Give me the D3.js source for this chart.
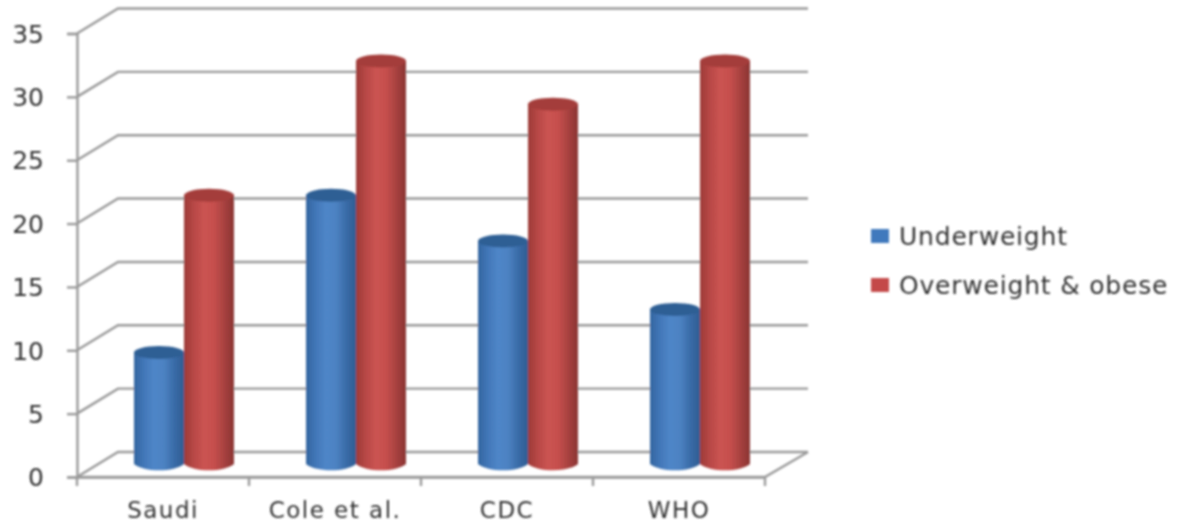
<!DOCTYPE html>
<html><head><meta charset="utf-8">
<script src="https://cdnjs.cloudflare.com/ajax/libs/d3/7.8.5/d3.min.js"></script>
<style>html,body{margin:0;background:#fff}svg{display:block}text{font-family:"DejaVu Sans",sans-serif;fill:#333}</style>
</head><body><svg id="c" width="1185" height="525"></svg>
<script>
const categories=["Saudi","Cole et al.","CDC","WHO"];
const seriesNames=["Underweight","Overweight & obese"];
const underweight=[8.8,21.2,17.6,12.2];
const overweight=[21.2,31.8,28.4,31.8];
const yTicks=[0,5,10,15,20,25,30,35];
const seriesValues=[underweight,overweight];
const palette=[
 {stops:["#33659f","#4277b8","#4f86c8","#4c82c2","#3a6ca8","#2f5c92"],top:"#2d5f94",legend:"#4079bd"},
 {stops:["#9c3a38","#b84846","#cb5452","#c64f4d","#a84240","#8a3432"],top:"#a43c3a",legend:"#c4494a"}];
const dx=41,dy=-25;
const svg=d3.select("#c");
const defs=svg.append("defs");
defs.append("filter").attr("id","soft").attr("x","-5%").attr("y","-5%").attr("width","110%").attr("height","110%")
  .append("feGaussianBlur").attr("stdDeviation",0.8);
palette.forEach((p,i)=>{
  const g=defs.append("linearGradient").attr("id","g"+i);
  p.stops.forEach((c,k)=>g.append("stop").attr("offset",k/(p.stops.length-1)).attr("stop-color",c));
});
const root=svg.append("g").attr("filter","url(#soft)");
const x=d3.scaleBand().domain(categories).range([77,765]);
const y=d3.scaleLinear().domain([0,35]).range([477,33.5]);
const grid="#9a9a9a", sw=2.4;
root.append("g").selectAll("path").data(yTicks).join("path")
  .attr("fill","none").attr("stroke",grid).attr("stroke-width",sw)
  .attr("d",d=>{const p=d3.path();p.moveTo(x.range()[0],y(d));p.lineTo(x.range()[0]+dx,y(d)+dy);p.lineTo(x.range()[1]+dx+2,y(d)+dy);return p.toString();});
const floor=d3.path();floor.moveTo(x.range()[0],y(0));floor.lineTo(x.range()[1],y(0));floor.lineTo(x.range()[1]+dx+2,y(0)+dy);
root.append("path").attr("d",floor.toString()).attr("fill","none").attr("stroke",grid).attr("stroke-width",sw);
const axY=root.append("g").attr("transform",`translate(${x.range()[0]},0)`).call(d3.axisLeft(y).tickValues(yTicks).tickSize(10).tickPadding(23));
const axX=root.append("g").attr("transform",`translate(0,${y(0)})`).call(d3.axisBottom(x).tickSize(0).tickPadding(19));
[axY,axX].forEach(a=>{a.selectAll("path,line").attr("stroke",grid).attr("stroke-width",sw);a.selectAll("text").style("font-family",'"DejaVu Sans",sans-serif').attr("fill","#333");});
axY.selectAll("text").attr("dy","0.35em").style("font-size","25px");
axX.selectAll("text").style("font-size","23px").style("letter-spacing","1.5px").attr("dy","0.95em");
axX.append("g").selectAll("line").data(x.domain().map(d=>x(d)).concat(x.range()[1])).join("line")
  .attr("x1",d=>d).attr("x2",d=>d).attr("y1",0).attr("y2",9).attr("stroke",grid).attr("stroke-width",sw);
const inner=d3.scaleBand().domain([0,1]).range([0,x.bandwidth()]).paddingOuter(0.72).paddingInner(0);
const baseShift=-13, ry=6.5, depthShift=21;
const bars=[];
categories.forEach((c,ci)=>seriesValues.forEach((vals,si)=>bars.push({c,si,v:vals[ci]})));
const gBars=root.append("g");
bars.forEach(b=>{
  const w=inner.bandwidth(), rx=w/2;
  const cx=x(b.c)+inner(b.si)+rx+depthShift;
  const y0=y(0)+baseShift, y1=y(b.v)+baseShift;
  const g=gBars.append("g");
  const p=d3.path();
  p.moveTo(cx-rx,y1);p.lineTo(cx-rx,y0);
  p.bezierCurveTo(cx-rx*0.6,y0+ry*1.3,cx+rx*0.6,y0+ry*1.3,cx+rx,y0);
  p.lineTo(cx+rx,y1);p.closePath();
  g.append("path").attr("d",p.toString()).attr("fill",`url(#g${b.si})`);
  g.append("ellipse").attr("cx",cx).attr("cy",y1).attr("rx",rx).attr("ry",ry).attr("fill",palette[b.si].top);
});
const lg=root.append("g");
const ly=d3.scalePoint().domain(seriesNames).range([236,285]);
seriesNames.forEach((n,i)=>{
  lg.append("rect").attr("x",871).attr("y",ly(n)-7).attr("width",18).attr("height",14).attr("fill",palette[i].legend);
  lg.append("text").attr("x",899).attr("y",ly(n)).attr("dy","0.35em").style("font-size","25px").style("letter-spacing","0.8px").text(n);
});
</script></body></html>
